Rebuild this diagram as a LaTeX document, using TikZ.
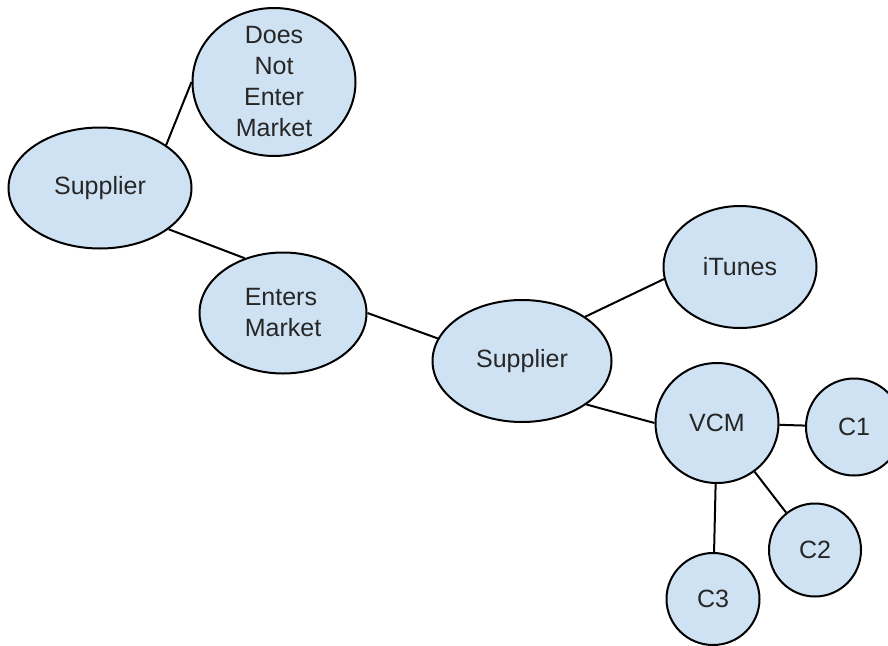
\documentclass[tikz,border=0pt]{standalone}
\usepackage{fontspec}
\setmainfont{Liberation Sans}
\usepackage{tikz}
\usetikzlibrary{shapes.geometric, positioning}
\definecolor{bubblefill}{HTML}{CFE2F3}
\tikzset{
    bubble/.style={ellipse, draw, line width=2pt, fill=bubblefill, align=center, inner sep=0pt, text=black!85, font=\fontsize{25}{31}\selectfont},
    link/.style={line width=2pt}
}

\begin{document}
\begin{tikzpicture}[x=1pt, y=-1pt]
            \useasboundingbox (0,0) rectangle (888,645);
            \node[bubble, minimum width=183pt, minimum height=121pt] (supplierA) at (100,188) {Supplier};
            \node[bubble, minimum width=163pt, minimum height=148pt, inner ysep=-8pt] (noentry) at (274,82) {Does\\Not\\Enter\\Market};
            \node[bubble, minimum width=167pt, minimum height=121pt, align=left] (enters) at (283,313) {Enters\\Market};
            \node[bubble, minimum width=179pt, minimum height=122pt] (supplierB) at (522,361) {Supplier};
            \node[bubble, minimum width=153pt, minimum height=122pt] (itunes) at (740,267) {iTunes};
            \node[bubble, minimum width=123pt, minimum height=120pt] (vcm) at (717,423) {VCM};
            \node[bubble, minimum width=96pt, minimum height=97pt] (cone) at (854,427) {C1};
            \node[bubble, minimum width=92pt, minimum height=93pt] (ctwo) at (815,550) {C2};
            \node[bubble, minimum width=93pt, minimum height=92pt] (cthree) at (713,599) {C3};
            \draw[link] (supplierA.33) -- (noentry.west);
            \draw[link] (supplierA.-31) -- (enters.125);
            \draw[link] (enters.east) -- (supplierB.165);
            \draw[link] (supplierB.35) -- (itunes.189);
            \draw[link] (supplierB.-34) -- (vcm.west);
            \draw[link] (vcm) -- (cone);
            \draw[link] (vcm) -- (ctwo);
            \draw[link] (vcm) -- (cthree);
        \end{tikzpicture}
\end{document}
